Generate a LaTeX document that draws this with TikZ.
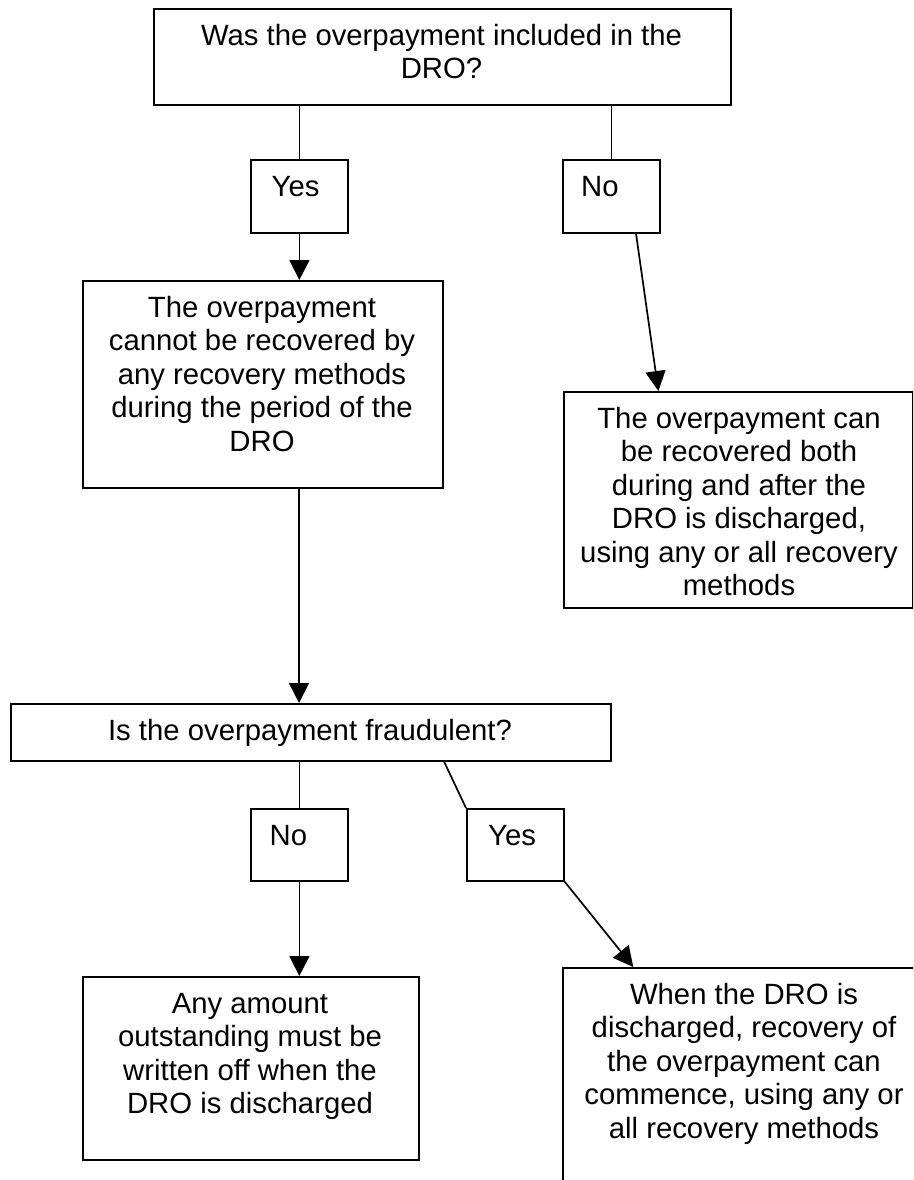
\documentclass[tikz,border=0pt]{standalone}
\usepackage{fontspec}
\setmainfont{Liberation Sans}
\usetikzlibrary{arrows.meta,calc}
\newcommand{\firststrut}{\rule{0pt}{22pt}}
\begin{document}
\begin{tikzpicture}[x=1pt,y=-1pt,
  box/.style={draw, line width=1.7pt, rectangle, inner sep=0pt, anchor=north west},
  txt/.style={anchor=north, inner sep=0pt, align=center, font=\fontsize{29.3}{33.5}\selectfont},
  lbl/.style={anchor=north west, inner sep=0pt, font=\fontsize{29.3}{33.5}\selectfont},
  conn/.style={line width=1.7pt},
  arr/.style={line width=1.7pt, -{Triangle[length=20pt,width=20pt]}}
]
\useasboundingbox (0,0) rectangle (913,1180);
\clip (0,0) rectangle (913,1180);

% boxes
\node[box, minimum width=577pt, minimum height=96pt]  (q1)   at (153,8)   {};
\node[box, minimum width=97pt,  minimum height=73pt]  (yes1) at (250,159) {};
\node[box, minimum width=97pt,  minimum height=73pt]  (no1)  at (562,159) {};
\node[box, minimum width=360pt, minimum height=207pt] (b2)   at (82,280)  {};
\node[box, minimum width=349pt, minimum height=216pt] (b3)   at (563,391) {};
\node[box, minimum width=600pt, minimum height=57pt]  (q2)   at (10,703)  {};
\node[box, minimum width=97pt,  minimum height=72pt]  (no2)  at (250,808) {};
\node[box, minimum width=97pt,  minimum height=72pt]  (yes2) at (466,808) {};
\node[box, minimum width=336pt, minimum height=183pt] (b4)   at (82,976)  {};
\node[box, minimum width=364pt, minimum height=240pt] (b5)   at (562,967) {};

% texts
\node[txt] (tq1) at (441.5,23) {\firststrut Was the overpayment included in the\\DRO?};
\node[lbl] (tyes1) at (271.5,174) {\firststrut Yes};
\node[lbl] (tno1) at (581,174) {\firststrut No};
\node[txt] (tb2) at (262,295) {\firststrut The overpayment\\cannot be recovered by\\any recovery methods\\during the period of the\\DRO};
\node[txt] (tb3) at (739,406) {\firststrut The overpayment can\\be recovered both\\during and after the\\DRO is discharged,\\using any or all recovery\\methods};
\node[txt] (tq2) at (310,718) {\firststrut Is the overpayment fraudulent?};
\node[lbl] (tno2) at (269.5,823) {\firststrut No};
\node[lbl] (tyes2) at (488,823) {\firststrut Yes};
\node[txt] (tb4) at (250,991) {\firststrut Any amount\\outstanding must be\\written off when the\\DRO is discharged};
\node[txt] (tb5) at (744,982) {\firststrut When the DRO is\\discharged, recovery of\\the overpayment can\\commence, using any or\\all recovery methods};

% connectors
\draw[conn] (yes1.north |- q1.south) -- (yes1.north);
\draw[arr]  (yes1.south) -- (yes1.south |- b2.north);
\draw[conn] (no1.north |- q1.south) -- (no1.north);
\draw[arr]  ($(no1.south west)!0.75!(no1.south east)$) -- ($(b3.north west)!0.272!(b3.north east)$);
\coordinate (b2out) at ($(b2.south west)!0.6!(b2.south east)$);
\draw[arr]  (b2out) -- (b2out |- q2.north);
\draw[conn] (no2.north |- q2.south) -- (no2.north);
\draw[arr]  (no2.south) -- (no2.south |- b4.north);
\draw[conn] ($(q2.south west)!0.7215!(q2.south east)$) -- (yes2.north west);
\draw[arr]  (yes2.south east) -- ($(b5.north west)!0.195!(b5.north east)$);
\end{tikzpicture}
\end{document}
